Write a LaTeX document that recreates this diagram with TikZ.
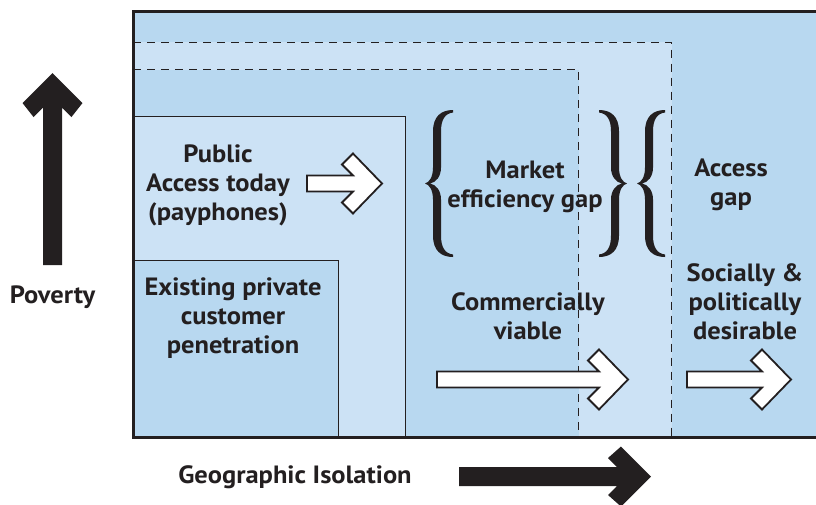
\documentclass[tikz,border=0pt]{standalone}
\usepackage{fontspec}
\setmainfont{PT Sans}[FakeStretch=1.06]
\definecolor{dblue}{HTML}{B8D8F0}
\definecolor{lblue}{HTML}{CCE2F5}
\definecolor{ink}{HTML}{231F20}
\tikzset{
  lbl/.style={font=\fontsize{25}{29}\selectfont\bfseries, text=ink, align=center, anchor=base, inner sep=0pt},
  thinbox/.style={draw=ink, line width=1pt},
  dashbox/.style={draw=ink, line width=1pt, dash pattern=on 8pt off 6pt},
  warrow/.style={fill=white, draw=ink, line width=1.8pt, line join=miter},
  barrow/.style={fill=ink},
  pics/lbrace/.style={code={
    \fill[ink] (28,-73.5) .. controls (16,-73.5) and (8,-67) .. (8,-52) -- (8,-16)
      .. controls (8,-6) and (4,-1) .. (0,0) .. controls (4,1) and (8,6) .. (8,16) -- (8,52)
      .. controls (8,67) and (16,73.5) .. (28,73.5) -- (28,71)
      .. controls (20,70) and (16,64) .. (16,52) -- (16,16)
      .. controls (16,7) and (11,1) .. (5,0) .. controls (11,-1) and (16,-7) .. (16,-16) -- (16,-52)
      .. controls (16,-64) and (20,-70) .. (28,-71) -- cycle;
  }}
}
\newcommand\whitearrow[3]{%
  \draw[warrow] (#1,#3-8) -- (#2-29,#3-8) -- (#2-40,#3-19) -- (#2-29,#3-30) -- (#2,#3)
    -- (#2-29,#3+30) -- (#2-40,#3+19) -- (#2-29,#3+8) -- (#1,#3+8) -- cycle;}
\begin{document}
\begin{tikzpicture}[x=1pt,y=-1pt]
\useasboundingbox (0,0) rectangle (816,504);
\clip (0,0) rectangle (816,504);
% regions
\fill[dblue] (133,11) rectangle (830,437);
\fill[lblue] (133,42) rectangle (671.5,437);
\fill[dblue] (133,69.5) rectangle (578.5,437);
\draw[dashbox] (133,42) -- (671.5,42) -- (671.5,437);
\draw[dashbox] (133,69.5) -- (578.5,69.5) -- (578.5,437);
\draw[thinbox, fill=lblue] (133,116) rectangle (405,437);
\draw[thinbox, fill=dblue] (133,260) rectangle (338,437);
\draw[ink, line width=3pt] (830,11) -- (133,11) -- (133,437) -- (830,437);
% braces
\pic at (425,183.5) {lbrace};
\pic[xscale=-1] at (627,183.5) {lbrace};
\pic at (637,183.5) {lbrace};
% labels (anchor = baseline of last line)
\node[lbl] (pub) at (218,220) {Public\\Access today\\(payphones)};
\node[lbl] (exist) at (233,353) {Existing private\\customer\\penetration};
\node[lbl] (mkt) at (525,207) {Market\\efficiency gap};
\node[lbl] (acc) at (731,205) {Access\\gap};
\node[lbl] (com) at (528,339) {Commercially\\viable};
\node[lbl] (soc) at (745,339) {Socially \&\\politically\\desirable};
\node[lbl] (pov) at (52.5,303) {Poverty};
\node[lbl] (geo) at (295,483) {Geographic Isolation};
% white arrows
\whitearrow{307}{382}{183.5}
\whitearrow{437}{628}{379.5}
\whitearrow{687}{791}{379.5}
% black arrows
\fill[barrow] (43,265) -- (43,107.5) -- (33.5,117) -- (22.5,103) -- (52.5,73) -- (82.5,103)
  -- (71.5,117) -- (62,107.5) -- (62,265) -- cycle;
\fill[barrow] (459,467) -- (617,467) -- (608,458) -- (621,446.5) -- (651,476.5) -- (621,506.5)
  -- (608,495) -- (617,486) -- (459,486) -- cycle;
\end{tikzpicture}
\end{document}
